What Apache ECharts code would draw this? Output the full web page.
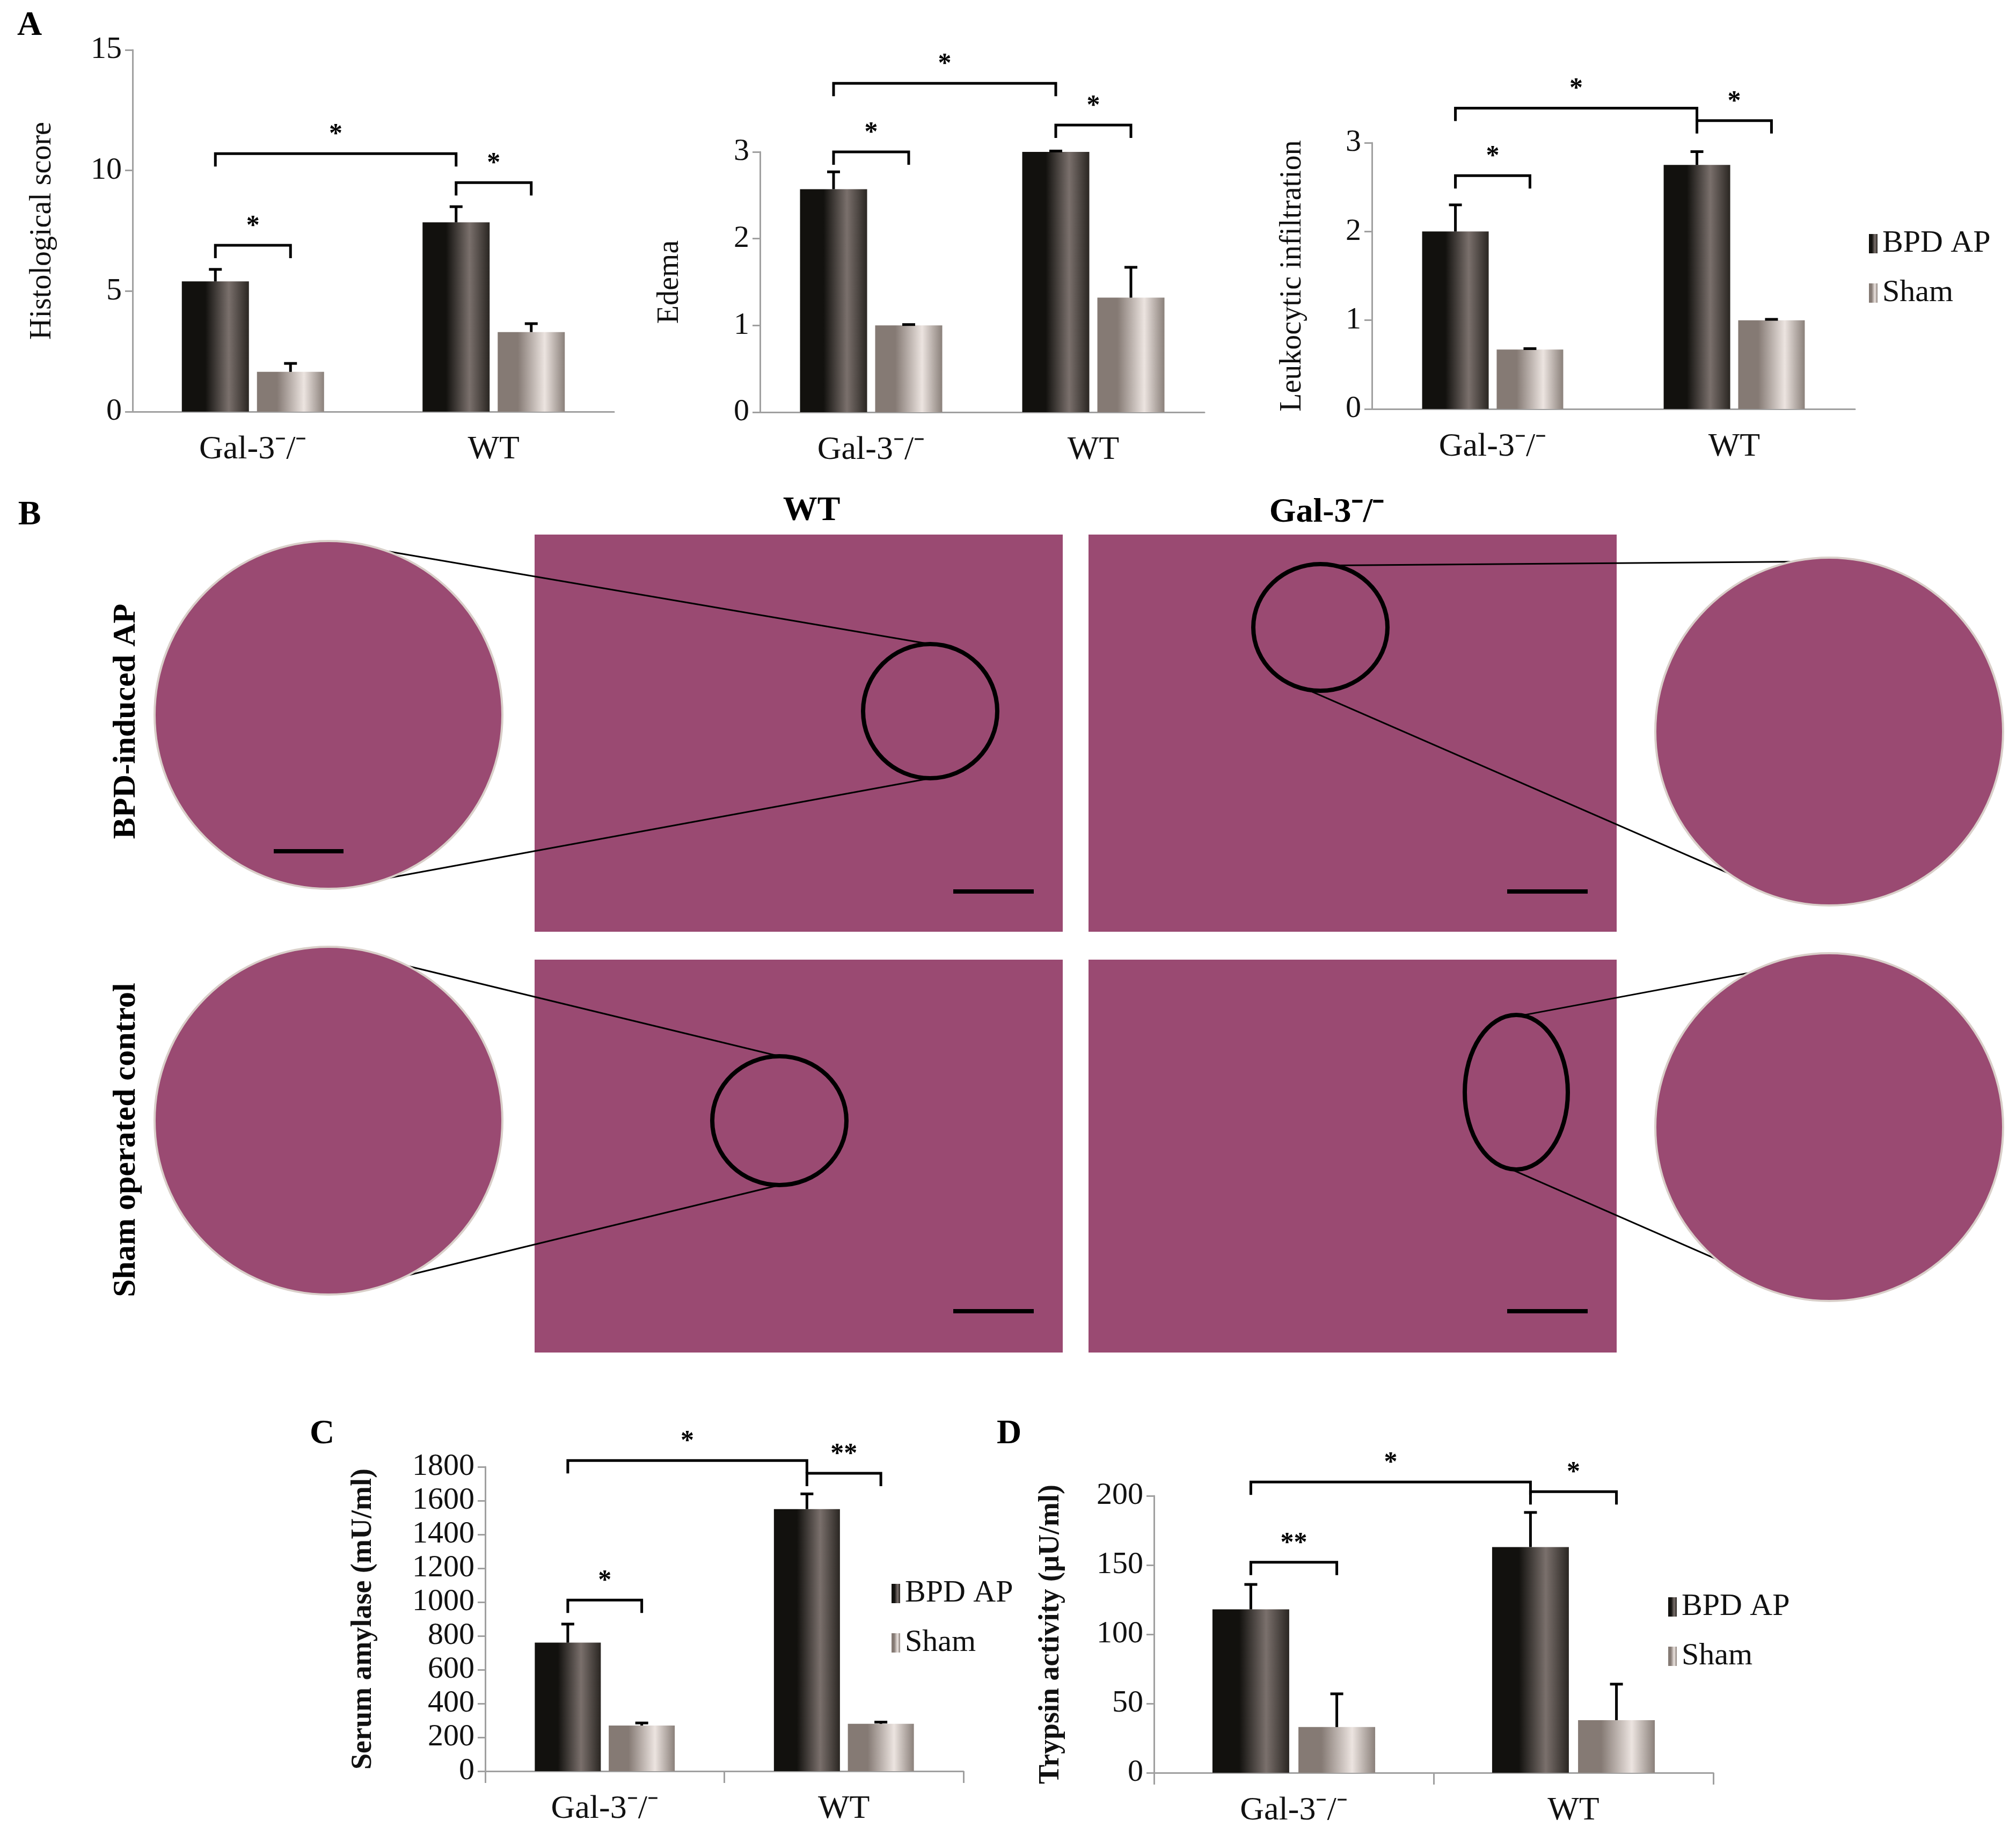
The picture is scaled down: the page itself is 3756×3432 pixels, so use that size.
<!DOCTYPE html>
<html><head><meta charset="utf-8">
<script src="https://cdn.jsdelivr.net/npm/echarts@6/dist/echarts.min.js"></script>
<style>html,body{margin:0;background:#fff}#c{width:3756px;height:3432px}</style>
</head><body><div id="c"></div>
<script>
var groups = ['Gal-3\u207B/\u207B', 'WT'];
// panel A: histological score, edema, leukocytic infiltration
var histoBpd = [5.4, 7.85], histoBpdErr = [0.5, 0.65];
var histoSham = [1.65, 3.3], histoShamErr = [0.35, 0.35];
var edemaBpd = [2.57, 3.0], edemaBpdErr = [0.2, 0.01];
var edemaSham = [1.0, 1.32], edemaShamErr = [0.01, 0.35];
var leukoBpd = [2.0, 2.75], leukoBpdErr = [0.3, 0.15];
var leukoSham = [0.67, 1.0], leukoShamErr = [0.01, 0.01];
// panel C, D
var amylBpd = [760, 1550], amylBpdErr = [110, 90];
var amylSham = [270, 280], amylShamErr = [15, 10];
var tryBpd = [118, 163], tryBpdErr = [18, 25];
var trySham = [33, 38], tryShamErr = [24, 26];
// brackets: [cat1, side1, cat2, side2, y, label]
var histoBr = [[0, -1, 0, 1, 6.9, '*'], [1, -1, 1, 1, 9.5, '*'], [0, -1, 1, -1, 10.7, '*']];
var edemaBr = [[0, -1, 0, 1, 3.0, '*'], [1, -1, 1, 1, 3.31, '*'], [0, -1, 1, -1, 3.79, '*']];
var leukoBr = [[0, -1, 0, 1, 2.63, '*'], [1, -1, 1, 1, 3.25, '*'], [0, -1, 1, -1, 3.39, '*']];
var amylBr = [[0, -1, 0, 1, 1012, '*'], [1, -1, 1, 1, 1762, '**'], [0, -1, 1, -1, 1837, '*']];
var tryBr = [[0, -1, 0, 1, 152, '**'], [1, -1, 1, 1, 203, '*'], [0, -1, 1, -1, 210, '*']];

var FONT = 'Liberation Serif';
var gBpd = {type: 'linear', x: 0, y: 0, x2: 1, y2: 0, colorStops: [
  {offset: 0, color: '#12110e'}, {offset: 0.35, color: '#12110e'}, {offset: 0.7, color: '#7a706c'}, {offset: 1, color: '#2a2622'}]};
var gSham = {type: 'linear', x: 0, y: 0, x2: 1, y2: 0, colorStops: [
  {offset: 0, color: '#857a74'}, {offset: 0.3, color: '#857a74'}, {offset: 0.7, color: '#ece4e0'}, {offset: 1, color: '#8a807a'}]};

var grids = [], xAxes = [], yAxes = [], series = [], legends = [];

function panel(box, yname, ymax, yint, nameGap, bold, bw, data, ticks) {
  var i = grids.length;
  grids.push({left: box[0], top: box[1], width: box[2], height: box[3]});
  xAxes.push({type: 'category', gridIndex: i, data: groups,
    axisLine: {lineStyle: {color: '#a0a0a0', width: 3}},
    axisTick: {show: ticks, length: 22, lineStyle: {color: '#a0a0a0', width: 3}},
    axisLabel: {fontFamily: FONT, fontSize: 62, color: '#111', margin: 40}});
  yAxes.push({type: 'value', gridIndex: i, min: 0, max: ymax, interval: yint,
    name: yname, nameLocation: 'middle', nameGap: nameGap,
    nameTextStyle: {fontFamily: FONT, fontSize: bold ? 54 : 56, color: '#111', fontWeight: bold ? 'bold' : 'normal'},
    splitLine: {show: false},
    axisLine: {show: true, lineStyle: {color: '#a0a0a0', width: 3}},
    axisTick: {show: true, length: 14, lineStyle: {color: '#a0a0a0', width: 3}},
    axisLabel: {fontFamily: FONT, fontSize: 58, color: '#111', margin: 20, formatter: function (v) { return String(v); }}});
  var gap = 0.12, off = bw * (1 + gap) / 2;
  series.push({type: 'bar', name: 'BPD AP', xAxisIndex: i, yAxisIndex: i, data: data.b, barWidth: bw, barGap: '12%', itemStyle: {color: gBpd}});
  series.push({type: 'bar', name: 'Sham', xAxisIndex: i, yAxisIndex: i, data: data.s, barWidth: bw, itemStyle: {color: gSham}});
  var errs = [];
  data.b.forEach(function (v, k) { errs.push([k, -1, v, data.be[k]]); });
  data.s.forEach(function (v, k) { errs.push([k, 1, v, data.se[k]]); });
  series.push({type: 'custom', xAxisIndex: i, yAxisIndex: i, data: errs, z: 5,
    renderItem: function (p, api) {
      var x = api.coord([api.value(0), api.value(2)])[0] + api.value(1) * off;
      var y0 = api.coord([api.value(0), api.value(2)])[1];
      var y1 = api.coord([api.value(0), api.value(2) + api.value(3)])[1];
      var st = {stroke: '#000', lineWidth: 5};
      return {type: 'group', children: [
        {type: 'line', shape: {x1: x, y1: y0, x2: x, y2: y1}, style: st},
        {type: 'line', shape: {x1: x - 12, y1: y1, x2: x + 12, y2: y1}, style: st}]};
    }});
  series.push({type: 'custom', xAxisIndex: i, yAxisIndex: i, data: data.br, clip: false, z: 5,
    encode: {x: 0, y: 4},
    renderItem: function (p, api) {
      var x1 = api.coord([api.value(0), 0])[0] + api.value(1) * off;
      var x2 = api.coord([api.value(2), 0])[0] + api.value(3) * off;
      var y = api.coord([0, api.value(4)])[1];
      return {type: 'group', children: [
        {type: 'polyline', shape: {points: [[x1, y + 24], [x1, y], [x2, y], [x2, y + 24]]}, style: {stroke: '#000', lineWidth: 5, fill: null}},
        {type: 'text', style: {text: data.br[p.dataIndex][5], x: (x1 + x2) / 2, y: y - 10, fontFamily: FONT, fontSize: 50, fontWeight: 'bold', fill: '#000', align: 'center', verticalAlign: 'bottom'}}]};
    }});
}

panel([247, 93, 897, 674], 'Histological score', 15, 5, 140, false, 125,
  {b: histoBpd, be: histoBpdErr, s: histoSham, se: histoShamErr, br: histoBr}, false);
panel([1416, 283, 828, 485], 'Edema', 3, 1, 140, false, 125,
  {b: edemaBpd, be: edemaBpdErr, s: edemaSham, se: edemaShamErr, br: edemaBr}, false);
panel([2556, 266, 900, 496], 'Leukocytic infiltration', 3, 1, 120, false, 124,
  {b: leukoBpd, be: leukoBpdErr, s: leukoSham, se: leukoShamErr, br: leukoBr}, false);
panel([904, 2733, 891, 567], 'Serum amylase (mU/ml)', 1800, 200, 200, true, 123,
  {b: amylBpd, be: amylBpdErr, s: amylSham, se: amylShamErr, br: amylBr}, true);
panel([2150, 2787, 1042, 516], 'Trypsin activity (\u00B5U/ml)', 200, 50, 165, true, 143,
  {b: tryBpd, be: tryBpdErr, s: trySham, se: tryShamErr, br: tryBr}, true);

[[3477, 420], [1656, 2935], [3103, 2960]].forEach(function (p) {
  legends.push({left: p[0], top: p[1], orient: 'vertical', itemGap: 34, itemWidth: 16, itemHeight: 36,
    icon: 'rect', data: ['BPD AP', 'Sham'], selectedMode: false,
    textStyle: {fontFamily: FONT, fontSize: 58, color: '#111', padding: [0, 0, 0, 4]}});
});

// panel B: tissue micrographs shown as plain shapes
var tissue = '#9a4a72', stroma = '#d9cfc9';
var g = [];
function txt(t, x, y, size, bold, rot) {
  g.push({type: 'text', x: x, y: y, rotation: rot || 0, style: {text: t, fontFamily: FONT, fontSize: size,
    fontWeight: bold ? 'bold' : 'normal', fill: '#000', align: 'center', verticalAlign: 'middle'}});
}
[[996, 996], [2028, 996], [996, 1788], [2028, 1788]].forEach(function (p) {
  g.push({type: 'rect', shape: {x: p[0], y: p[1], width: 984, height: p[1] < 1500 ? 740 : 732}, style: {fill: tissue}});
  g.push({type: 'line', shape: {x1: p[0] + 780, y1: p[1] + (p[1] < 1500 ? 665 : 655), x2: p[0] + 930, y2: p[1] + (p[1] < 1500 ? 665 : 655)}, style: {stroke: '#000', lineWidth: 8}});
});
var big = [[612, 1332], [3408, 1363], [612, 2088], [3408, 2100]];
var small = [[1733, 1325, 125, 125], [2460, 1169, 125, 118], [1452, 2088, 125, 120], [2825, 2035, 96, 144]];
big.forEach(function (c, k) {
  var s = small[k];
  var ang = Math.atan2(c[1] - s[1], c[0] - s[0]);
  [1, -1].forEach(function (d) {
    var a = ang + d * Math.PI / 2;
    g.push({type: 'line', shape: {x1: c[0] + 324 * Math.cos(a), y1: c[1] + 324 * Math.sin(a),
      x2: s[0] + s[2] * Math.cos(a), y2: s[1] + s[3] * Math.sin(a)}, style: {stroke: '#000', lineWidth: 3}});
  });
  g.push({type: 'circle', shape: {cx: c[0], cy: c[1], r: 324}, style: {fill: tissue, stroke: stroma, lineWidth: 4}});
  g.push({type: 'ellipse', shape: {cx: s[0], cy: s[1], rx: s[2], ry: s[3]}, style: {fill: null, stroke: '#000', lineWidth: 8}});
});
g.push({type: 'line', shape: {x1: 510, y1: 1586, x2: 640, y2: 1586}, style: {stroke: '#000', lineWidth: 8}});
txt('A', 55, 48, 64, true);
txt('B', 55, 960, 64, true);
txt('C', 600, 2672, 64, true);
txt('D', 1880, 2672, 64, true);
txt('WT', 1512, 952, 64, true);
txt('Gal-3\u207B/\u207B', 2472, 955, 64, true);
txt('BPD-induced AP', 235, 1344, 60, true, Math.PI / 2);
txt('Sham operated control', 235, 2124, 60, true, Math.PI / 2);

var chart = echarts.init(document.getElementById('c'));
chart.setOption({
  animation: false,
  grid: grids, xAxis: xAxes, yAxis: yAxes, series: series, legend: legends,
  graphic: g
});
</script></body></html>
